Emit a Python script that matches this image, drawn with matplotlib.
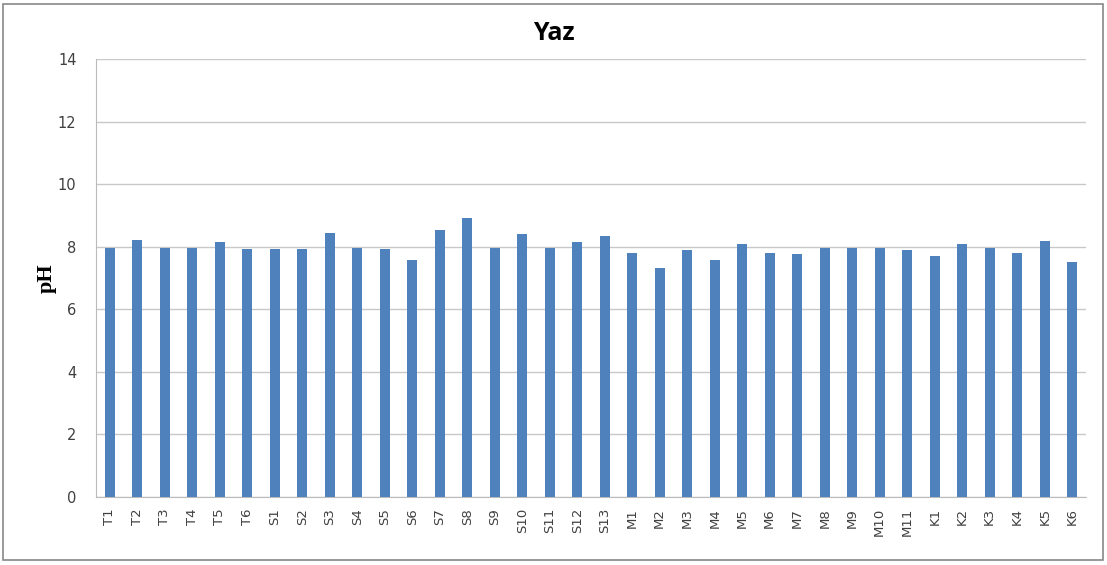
import matplotlib
matplotlib.use("Agg")
import matplotlib.pyplot as plt
from matplotlib.patches import Rectangle

# sample stations and summer pH values
stations = ["T1", "T2", "T3", "T4", "T5", "T6",
            "S1", "S2", "S3", "S4", "S5", "S6", "S7", "S8", "S9", "S10", "S11", "S12", "S13",
            "M1", "M2", "M3", "M4", "M5", "M6", "M7", "M8", "M9", "M10", "M11",
            "K1", "K2", "K3", "K4", "K5", "K6"]
ph_values = [7.97, 8.21, 7.97, 7.97, 8.16, 7.92,
             7.92, 7.92, 8.44, 7.97, 7.92, 7.59, 8.53, 8.92, 7.97, 8.41, 7.97, 8.15, 8.35,
             7.80, 7.32, 7.89, 7.59, 8.09, 7.80, 7.76, 7.97, 7.97, 7.97, 7.91,
             7.69, 8.09, 7.97, 7.80, 8.18, 7.51]
y_ticks = [0, 2, 4, 6, 8, 10, 12, 14]

fig = plt.figure(figsize=(11.07, 5.65), dpi=100)
ax = fig.add_axes([96 / 1107, 1 - 497 / 565, 990 / 1107, 438 / 565])

x = range(len(stations))
ax.bar(x, ph_values, width=0.38, color="#4f81bd", zorder=3)

ax.set_xlim(-0.5, len(stations) - 0.5)
ax.set_ylim(0, 14)
ax.set_yticks(y_ticks)
ax.set_xticks(list(x))
ax.set_xticklabels(stations, rotation=90, fontsize=9.5, color="#404040")
ax.tick_params(axis="y", labelsize=10.5, colors="#404040", length=0, pad=14)
ax.tick_params(axis="x", length=0, pad=8)
ax.grid(axis="y", color="#c8c8c8", linewidth=1, zorder=0)

for side in ["top", "right"]:
    ax.spines[side].set_visible(False)
for side in ["left", "bottom"]:
    ax.spines[side].set_color("#bbbbbb")

ax.set_ylabel("pH", fontsize=16, fontweight="bold", family="Liberation Serif", labelpad=1)
fig.text(0.5, 1 - 33 / 565, "Yaz", ha="center", va="center", fontsize=18, fontweight="bold",
         family="Open Sans")

# outer chart border
fig.patches.append(Rectangle((3 / 1107, 5 / 565), 1100 / 1107, 556 / 565, transform=fig.transFigure,
                             fill=False, edgecolor="#888888", linewidth=1.2))

fig.savefig("out.png", dpi=100)
